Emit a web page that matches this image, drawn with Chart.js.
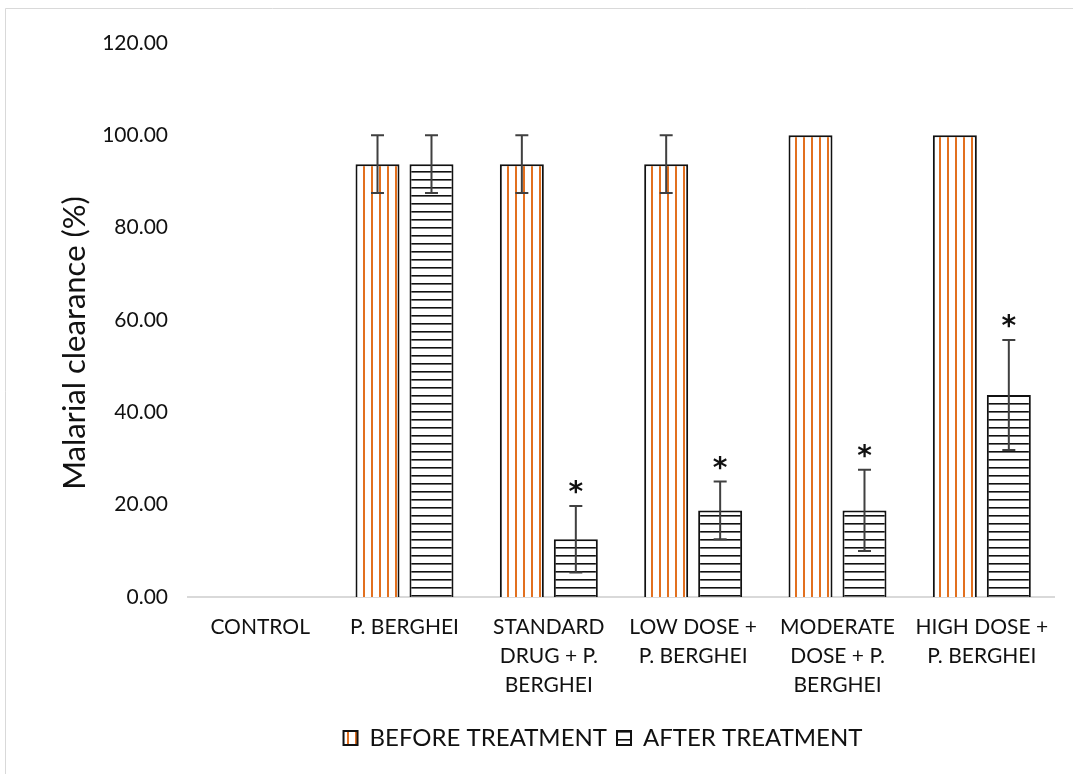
<!DOCTYPE html>
<html>
<head>
<meta charset="utf-8">
<style>
  html, body { margin: 0; padding: 0; background: #ffffff; }
  #wrap { width: 1073px; height: 774px; }
</style>
<script src="https://cdn.jsdelivr.net/npm/chart.js@4.4.1/dist/chart.umd.min.js"></script>
</head>
<body>
<div id="wrap"><canvas id="chart" width="1073" height="774"></canvas></div>
<script>
// Groups on the x axis (multi-line labels as arrays)
const categories = [
  'CONTROL',
  'P. BERGHEI',
  ['STANDARD', 'DRUG + P.', 'BERGHEI'],
  ['LOW DOSE +', 'P. BERGHEI'],
  ['MODERATE', 'DOSE + P.', 'BERGHEI'],
  ['HIGH DOSE +', 'P. BERGHEI']
];
const seriesNames = ['BEFORE TREATMENT', 'AFTER TREATMENT'];

// Malarial clearance (%) and standard errors
const beforeValues = [0, 93.75, 93.75, 93.75, 100, 100];
const beforeErrors = [0, 6.25, 6.25, 6.25, 0, 0];
const afterValues  = [0, 93.75, 12.5, 18.75, 18.75, 43.75];
const afterErrors  = [0, 6.25, 7.2, 6.25, 8.8, 11.9];
const afterMarks   = ['', '', '*', '*', '*', '*'];

const yTicks = [0, 20, 40, 60, 80, 100, 120];
const yTitle = 'Malarial clearance (%)';

const FONT = 'Lato, "Open Sans", sans-serif';
const TEXT = '#111111';

const canvasEl = document.getElementById('chart');
const ctx = canvasEl.getContext('2d');

// Hatch fills
function hatch(draw) {
  const c = document.createElement('canvas');
  c.width = 8; c.height = 8;
  const g = c.getContext('2d');
  g.fillStyle = '#ffffff';
  g.fillRect(0, 0, 8, 8);
  draw(g);
  return ctx.createPattern(c, 'repeat');
}
const verticalHatch = hatch(g => { g.fillStyle = '#E2701F'; g.fillRect(3, 0, 2, 8); });
const horizontalHatch = hatch(g => { g.fillStyle = '#111111'; g.fillRect(0, 3, 8, 1.6); });

// Error bars and significance marks drawn from the data through the scales
const errorBarPlugin = {
  id: 'errorBars',
  afterDatasetsDraw(chart) {
    const c = chart.ctx;
    const y = chart.scales.y;
    const errSets = [beforeErrors, afterErrors];
    const markSets = [[], afterMarks];
    chart.data.datasets.forEach((ds, di) => {
      const meta = chart.getDatasetMeta(di);
      meta.data.forEach((bar, i) => {
        const v = ds.data[i];
        const e = errSets[di][i];
        let topY = y.getPixelForValue(v);
        if (e > 0) {
          const yHi = y.getPixelForValue(v + e);
          const yLo = y.getPixelForValue(v - e);
          topY = yHi;
          c.save();
          c.strokeStyle = '#404040';
          c.lineWidth = 2;
          c.beginPath();
          c.moveTo(bar.x, yHi); c.lineTo(bar.x, yLo);
          c.moveTo(bar.x - 6.5, yHi); c.lineTo(bar.x + 6.5, yHi);
          c.moveTo(bar.x - 6.5, yLo); c.lineTo(bar.x + 6.5, yLo);
          c.stroke();
          c.restore();
        }
        const m = markSets[di][i];
        if (m) {
          c.save();
          c.fillStyle = '#111111';
          c.font = 'bold 28px "DejaVu Sans", sans-serif';
          c.textAlign = 'center';
          c.textBaseline = 'middle';
          c.fillText(m, bar.x, topY - 12);
          c.restore();
        }
      });
    });
  }
};

// Frame line, legend centring over the plot, and the rotated value-axis title
const framePlugin = {
  id: 'frame',
  afterLayout(chart) {
    const lg = chart.legend;
    if (lg) {
      lg.left = 152;
      lg.right = 1054;
      lg.width = lg.right - lg.left;
    }
  },
  beforeDraw(chart) {
    const c = chart.ctx;
    c.save();
    c.fillStyle = '#ffffff';
    c.fillRect(0, 0, chart.width, chart.height);
    c.strokeStyle = '#d9d9d9';
    c.lineWidth = 1;
    c.beginPath();
    c.moveTo(5.5, chart.height);
    c.lineTo(5.5, 8.5);
    c.lineTo(chart.width, 8.5);
    c.stroke();
    c.restore();
  },
  afterDraw(chart) {
    const c = chart.ctx;
    c.save();
    c.translate(75, 343);
    c.rotate(-Math.PI / 2);
    c.fillStyle = TEXT;
    c.font = '31px ' + FONT;
    c.textAlign = 'center';
    c.textBaseline = 'middle';
    c.fillText(yTitle, 0, 0);
    c.restore();
  }
};

new Chart(ctx, {
  type: 'bar',
  data: {
    labels: categories,
    datasets: [
      {
        label: seriesNames[0],
        data: beforeValues,
        backgroundColor: verticalHatch,
        borderColor: '#111111',
        borderWidth: 2,
        categoryPercentage: 0.748,
        barPercentage: 0.815
      },
      {
        label: seriesNames[1],
        data: afterValues,
        backgroundColor: horizontalHatch,
        borderColor: '#111111',
        borderWidth: 2,
        categoryPercentage: 0.748,
        barPercentage: 0.815
      }
    ]
  },
  options: {
    responsive: false,
    animation: false,
    devicePixelRatio: 1,
    layout: { padding: { left: 20, right: 19, top: 43, bottom: 14 } },
    plugins: {
      legend: {
        position: 'bottom',
        labels: {
          boxWidth: 14,
          boxHeight: 14,
          padding: 10,
          color: TEXT,
          font: { family: FONT, size: 24 }
        }
      },
      tooltip: { enabled: false }
    },
    scales: {
      x: {
        grid: { display: false, drawTicks: false },
        border: { display: true, color: '#d9d9d9', width: 2 },
        ticks: {
          autoSkip: false,
          maxRotation: 0,
          minRotation: 0,
          padding: 16,
          color: TEXT,
          font: { family: FONT, size: 21, lineHeight: 1.38 }
        },
        afterFit(scale) { scale.height = 119; }
      },
      y: {
        min: yTicks[0],
        max: yTicks[yTicks.length - 1],
        grid: { display: false, drawTicks: false },
        border: { display: false },
        afterBuildTicks(scale) { scale.ticks = yTicks.map(v => ({ value: v })); },
        ticks: {
          padding: 20,
          color: TEXT,
          font: { family: FONT, size: 21 },
          callback: v => Number(v).toFixed(2)
        },
        afterFit(scale) { scale.width = 168; }
      }
    }
  },
  plugins: [framePlugin, errorBarPlugin]
});
</script>
</body>
</html>
